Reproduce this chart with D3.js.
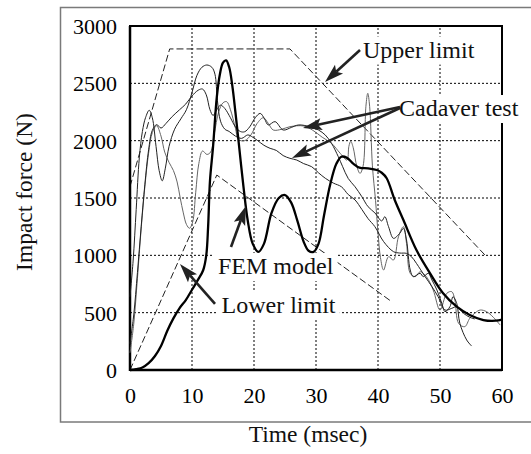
<!DOCTYPE html>
<html><head><meta charset="utf-8">
<script src="https://cdn.jsdelivr.net/npm/d3@7"></script>
<style>
html,body{margin:0;padding:0;background:#fff;}
svg{display:block;}
svg text{font-family:"Liberation Serif","Times New Roman","DejaVu Serif",serif;}
</style>
</head><body>
<script>
// ---- data (time in msec, force in N) ----
const xTicks = [0, 10, 20, 30, 40, 50, 60];
const yTicks = [0, 500, 1000, 1500, 2000, 2500, 3000];

const upperLimit = [[0,1600],[6.4,2800],[25.8,2800],[57.3,1000]];
const lowerLimit = [[0,0],[14,1700],[42.1,600]];

const femModel = [[0,0],[1,8],[2,22],[3,60],[4,120],[5,210],[6,340],[7,450],[8,540],[9,610],[10,700],[11,790],[11.8,870],[12.3,1000],[12.6,1250],[12.9,1650],[13.4,1950],[14,2380],[14.5,2580],[15,2680],[15.5,2700],[16,2640],[16.5,2480],[17,2250],[17.5,2000],[18.3,1600],[19,1300],[19.8,1100],[20.7,1030],[21.6,1100],[22.8,1366],[24,1500],[25,1526],[26,1460],[27,1300],[28,1120],[28.8,1040],[29.6,1030],[30.4,1100],[31.3,1350],[32.3,1620],[33.3,1800],[34.1,1860],[35,1850],[36,1800],[37,1765],[38.4,1758],[39.8,1744],[40.6,1720],[41.4,1672],[42.7,1483],[44.1,1308],[46.2,1046],[48.4,843],[50.5,669],[52.7,552],[54.8,480],[57,436],[59,430],[60,440]];

const cadaver1 = [[0,640],[0.5,950],[1,1400],[1.5,1850],[2,2080],[2.5,2200],[3.1,2265],[3.6,2200],[4.2,1950],[4.7,1740],[5.2,1650],[5.7,1760],[6.3,1950],[7.2,2100],[8.2,2190],[9.1,2270],[10,2420],[10.8,2570],[11.6,2640],[12.4,2660],[13.2,2640],[13.7,2580],[14.1,2350],[14.6,2170],[15.3,2100],[16,2080],[17,2040],[18,2020],[19,2050],[19.8,2030],[20.6,2000],[21.6,1960],[22.6,1933],[23.6,1915],[24.7,1870],[25.8,1846],[26.9,1831],[28,1800],[29.3,1773],[30.4,1720],[31.5,1672],[32.8,1630],[34.1,1598],[35.2,1530],[36.3,1483],[37.4,1400],[38.4,1320],[39.5,1250],[40.9,1120],[42.5,1032],[43.5,1020],[44.6,1017],[45.4,988],[46.2,930],[47.6,814],[48.7,727],[49.7,639],[50.8,523],[51.9,538],[52.7,552],[53.8,494],[54.8,460],[55.6,445]];

const cadaver2 = [[0,230],[0.6,480],[1.2,850],[1.8,1250],[2.4,1620],[3,1920],[3.6,2090],[4.3,2140],[5,2110],[5.8,2150],[6.8,2210],[8,2270],[9,2320],[10,2390],[11,2440],[11.7,2450],[12.3,2400],[12.9,2270],[13.4,2220],[14,2270],[14.6,2310],[15.3,2280],[16.2,2200],[17,2120],[17.8,2080],[18.5,2078],[19.3,2120],[20.2,2200],[21,2238],[21.7,2190],[22.3,2137],[23.4,2166],[24.7,2093],[26,2115],[27.2,2137],[29,2122],[30.4,2093],[31.5,2049],[32.5,1977],[33.6,1860],[34.3,1773],[35.2,1670],[36.3,1598],[37.4,1511],[38.4,1424],[39.5,1370],[40.6,1300],[41.1,1337],[41.7,1250],[42.5,1148],[43.5,1192],[44.1,1235],[44.6,1134],[45.2,872],[45.7,814],[46.8,843],[47.3,814],[48.1,843],[48.7,785],[49.5,698],[50.3,581],[50.8,509],[51.6,552],[52.1,639],[52.7,581],[53.2,407],[54.3,262],[55.1,209]];

const cadaver3 = [[0,150],[0.6,400],[1.2,800],[1.8,1230],[2.4,1600],[3,1890],[3.6,2070],[4.3,2130],[5,2040],[5.6,1900],[6.3,1810],[7,1740],[7.6,1640],[8.1,1500],[8.6,1370],[9.1,1270],[9.6,1236],[10.1,1290],[10.6,1550],[11.1,1800],[11.7,1910],[12.4,1880],[13,1900],[13.6,2060],[14.3,2250],[15,2330],[15.6,2340],[16.2,2270],[17,2110],[17.5,2010],[18.5,2000],[19.5,2050],[20.5,2150],[21.5,2200],[22.3,2151],[23.1,2093],[24.5,2100],[25.8,2122],[28,2128],[29.5,2090],[31,2030],[32.5,1977],[33.9,1890],[35,1831],[35.3,1950],[35.6,1995],[36,1940],[36.6,1773],[37.1,1715],[37.6,1780],[38.05,2300],[38.35,2413],[38.65,2300],[39.1,1780],[39.6,1480],[40,1200],[40.4,980],[40.9,872],[41.7,988],[42.5,959],[43.3,1162],[44.1,1250],[44.6,1105],[45.2,843],[46,814],[46.8,857],[47.8,814],[48.9,698],[50,523],[51.1,669],[51.9,683],[52.4,610],[53,407],[54,378],[54.8,451],[55.7,500],[56.5,523],[57.5,509],[58.6,460],[59.7,392]];

// annotation labels: [text, t, F] and arrows: [tailT, tailF, tipT, tipF]
const labels = [["Upper limit", 37.58, 2725], ["Cadaver test", 43.39, 2215], ["FEM model", 14.19, 837], ["Lower limit", 14.76, 497]];
const arrows = [[37.1,2791,31.45,2512],[43.55,2294,27.9,2110],[43.55,2285,26.13,1849],[16.29,1073,18.71,1430],[13.71,576,8.06,924]];

const xTitle = "Time (msec)";
const yTitle = "Impact force (N)";

// ---- drawing ----
const W = 531, H = 454;
const serif = '"Liberation Serif","Times New Roman","DejaVu Serif",serif';
const svg = d3.select("body").append("svg").attr("width", W).attr("height", H);
svg.append("rect").attr("width", W).attr("height", H).attr("fill", "#fff");

const x = d3.scaleLinear().domain([0, 60]).range([130, 502]);
const y = d3.scaleLinear().domain([0, 3000]).range([370, 26]);

// outer gray frame
svg.append("rect").attr("x", 60.5).attr("y", 7.5).attr("width", 500).attr("height", 414.5)
  .attr("fill", "none").attr("stroke", "#7a7a7a").attr("stroke-width", 1.5);

// grid
const grid = svg.append("g");
xTicks.slice(1, -1).forEach(t => grid.append("line").attr("x1", x(t)).attr("x2", x(t)).attr("y1", y(0)).attr("y2", y(3000))
  .attr("stroke", "#000").attr("stroke-width", 1).attr("stroke-dasharray", "2,2"));
yTicks.slice(1, -1).forEach(v => grid.append("line").attr("x1", x(0)).attr("x2", x(60)).attr("y1", y(v)).attr("y2", y(v))
  .attr("stroke", "#000").attr("stroke-width", 1).attr("stroke-dasharray", "2,2"));

// limits
const lin = d3.line().x(d => x(d[0])).y(d => y(d[1]));
[upperLimit, lowerLimit].forEach(dat => svg.append("path").attr("d", lin(dat)).attr("fill", "none")
  .attr("stroke", "#222").attr("stroke-width", 1).attr("stroke-dasharray", "7,3"));

// plot frame
svg.append("rect").attr("x", x(0)).attr("y", y(3000)).attr("width", x(60) - x(0)).attr("height", y(0) - y(3000))
  .attr("fill", "none").attr("stroke", "#000").attr("stroke-width", 2);
svg.append("line").attr("x1", x(0)).attr("x2", x(0)).attr("y1", y(0)+1).attr("y2", y(3000)).attr("stroke", "#000").attr("stroke-width", 2.5);
svg.append("line").attr("x1", x(0)).attr("x2", x(60)).attr("y1", y(0)).attr("y2", y(0)).attr("stroke", "#000").attr("stroke-width", 2.5);

// tick labels (via axes, with domain/ticks hidden)
const xAxis = svg.append("g").attr("transform", `translate(0,${y(0)})`)
  .call(d3.axisBottom(x).tickValues(xTicks).tickSize(0).tickPadding(0).tickFormat(d3.format("d")));
xAxis.attr("font-family", null).attr("font-size", null);
xAxis.select(".domain").remove();
xAxis.selectAll("text").style("font-family", serif).style("font-size", "22px").attr("fill", "#000").attr("dy", null).attr("y", 33);

const yAxis = svg.append("g").attr("transform", `translate(${x(0)},0)`)
  .call(d3.axisLeft(y).tickValues(yTicks).tickSize(0).tickPadding(13).tickFormat(d3.format("d")));
yAxis.attr("font-family", null).attr("font-size", null);
yAxis.select(".domain").remove();
yAxis.selectAll("text").style("font-family", serif).style("font-size", "22px").attr("fill", "#000").attr("dy", "0.34em");

// labels with white background boxes
const labG = svg.append("g");
const boxes = labG.append("g");
const texts = labG.append("g");
labels.forEach(([s, t, f]) => {
  const tx = texts.append("text").attr("x", x(t)).attr("y", y(f)).style("font-family", serif)
    .style("font-size", "24px").attr("fill", "#111").text(s);
  const bb = tx.node().getBBox();
  boxes.append("rect").attr("x", bb.x - 4).attr("y", bb.y).attr("width", bb.width + 8).attr("height", bb.height + 2).attr("fill", "#fff");
});

// curves (drawn over boxes)
const smooth = d3.line().x(d => x(d[0])).y(d => y(d[1])).curve(d3.curveCatmullRom.alpha(0.5));
svg.append("path").attr("d", smooth(cadaver3)).attr("fill", "none").attr("stroke", "#666").attr("stroke-width", 1);
svg.append("path").attr("d", smooth(cadaver1)).attr("fill", "none").attr("stroke", "#222").attr("stroke-width", 1);
svg.append("path").attr("d", smooth(cadaver2)).attr("fill", "none").attr("stroke", "#222").attr("stroke-width", 1);
svg.append("path").attr("d", smooth(femModel)).attr("fill", "none").attr("stroke", "#000").attr("stroke-width", 2.3);

// move texts on top
texts.raise();

// arrows
const arrG = svg.append("g");
arrows.forEach(([t1, f1, t2, f2]) => {
  const x1 = x(t1), y1 = y(f1), x2 = x(t2), y2 = y(f2);
  const dx = x2 - x1, dy = y2 - y1, len = Math.hypot(dx, dy);
  const ux = dx / len, uy = dy / len, nx = -uy, ny = ux;
  const L = 19, w = 6;
  const bx = x2 - ux * L, by = y2 - uy * L;
  const kx = x2 - ux * L * 0.8, ky = y2 - uy * L * 0.8;
  arrG.append("line").attr("x1", x1).attr("y1", y1).attr("x2", kx).attr("y2", ky)
    .attr("stroke", "#222").attr("stroke-width", 2.6);
  arrG.append("path").attr("d", `M${x2},${y2}L${bx + nx * w},${by + ny * w}L${kx},${ky}L${bx - nx * w},${by - ny * w}Z`)
    .attr("fill", "#222");
});

// axis titles
svg.append("text").attr("x", 308).attr("y", 442).attr("text-anchor", "middle").style("font-family", serif)
  .style("font-size", "23.5px").attr("fill", "#111").text(xTitle);
svg.append("text").attr("transform", "translate(32,192) rotate(-90)").attr("text-anchor", "middle").style("font-family", serif)
  .style("font-size", "23.5px").attr("fill", "#111").text(yTitle);
</script>
</body></html>
